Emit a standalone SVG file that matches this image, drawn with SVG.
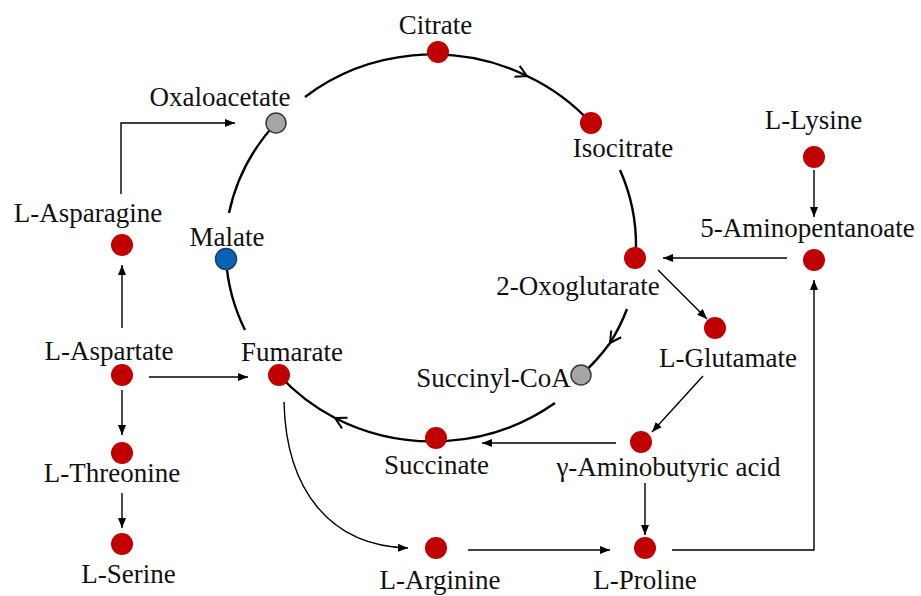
<svg xmlns="http://www.w3.org/2000/svg" width="921" height="596" viewBox="0 0 921 596">
<style>
text{font-family:'Liberation Serif','Times New Roman',serif;font-size:27px;fill:#111;text-anchor:middle}
.cyc{fill:none;stroke:#000;stroke-width:2.4}
.thin{fill:none;stroke:#000;stroke-width:1.4}
.red{fill:#c00000}
.gray{fill:#a6a6a6;stroke:#3a3a3a;stroke-width:1.5}
.blue{fill:#0b63b5;stroke:#1d3b66;stroke-width:1.5}
</style>
<defs>
<marker id="arr" markerWidth="12" markerHeight="10" refX="10" refY="4" orient="auto" markerUnits="userSpaceOnUse"><path d="M0,0 L10,4 L0,8 Z" fill="#000"/></marker>
<marker id="chev" markerWidth="14" markerHeight="14" refX="0" refY="0" orient="auto" markerUnits="userSpaceOnUse" overflow="visible"><path d="M-11,-6 L0,0 L-11,6" fill="none" stroke="#000" stroke-width="2"/></marker>
</defs>
<rect width="921" height="596" fill="#fff"/>
<g id="connectors">
<path class="cyc" d="M305,97 A205,194 0 0 1 527,76 A205,194 0 0 1 591,123" marker-mid="url(#chev)"/>
<path class="cyc" d="M620,170 A205,194 0 0 1 636,248"/>
<path class="cyc" d="M627,309 A205,194 0 0 1 610,343 A205,194 0 0 1 581,375" marker-mid="url(#chev)"/>
<path class="cyc" d="M555,403 A205,194 0 0 1 335,418 A205,194 0 0 1 279,375" marker-mid="url(#chev)"/>
<path class="cyc" d="M245,330 A205,194 0 0 1 226,259"/>
<path class="cyc" d="M229,213 A205,194 0 0 1 276,123"/>
<path class="thin" d="M121,194 V123 H235" marker-end="url(#arr)"/>
<path class="thin" d="M122,328 V265" marker-end="url(#arr)"/>
<path class="thin" d="M149,377 H248" marker-end="url(#arr)"/>
<path class="thin" d="M122,390 V435" marker-end="url(#arr)"/>
<path class="thin" d="M122,493 V528" marker-end="url(#arr)"/>
<path class="thin" d="M284,402 C286,490 330,546 408,548" marker-end="url(#arr)"/>
<path class="thin" d="M468,550 H610" marker-end="url(#arr)"/>
<path class="thin" d="M672,550 H814 V280" marker-end="url(#arr)"/>
<path class="thin" d="M645,483 V535" marker-end="url(#arr)"/>
<path class="thin" d="M616,443 H482" marker-end="url(#arr)"/>
<path class="thin" d="M703,376 L652,432" marker-end="url(#arr)"/>
<path class="thin" d="M658,270 L707,319" marker-end="url(#arr)"/>
<path class="thin" d="M787,258 H663" marker-end="url(#arr)"/>
<path class="thin" d="M814,170 V217" marker-end="url(#arr)"/>
</g>
<g id="citrate"><circle class="red" cx="438" cy="52" r="11"/><text x="435.5" y="34">Citrate</text></g>
<g id="isocitrate"><circle class="red" cx="591" cy="123" r="11"/><text x="623" y="157">Isocitrate</text></g>
<g id="oxoglutarate"><circle class="red" cx="635" cy="258" r="11"/><text x="578" y="295">2-Oxoglutarate</text></g>
<g id="succinylcoa"><text x="493.5" y="387">Succinyl-CoA</text><circle class="gray" cx="581" cy="375" r="10"/></g>
<g id="succinate"><circle class="red" cx="436" cy="438" r="11"/><text x="436.5" y="474">Succinate</text></g>
<g id="fumarate"><circle class="red" cx="279" cy="375" r="11"/><text x="292" y="361">Fumarate</text></g>
<g id="malate"><circle class="blue" cx="226" cy="259" r="10.5"/><text x="227" y="246">Malate</text></g>
<g id="oxaloacetate"><circle class="gray" cx="276" cy="123" r="10"/><text x="220" y="106">Oxaloacetate</text></g>
<g id="asparagine"><circle class="red" cx="122" cy="245" r="11"/><text x="88" y="222">L-Asparagine</text></g>
<g id="aspartate"><circle class="red" cx="122" cy="375" r="11"/><text x="109" y="360">L-Aspartate</text></g>
<g id="threonine"><circle class="red" cx="122" cy="453" r="11"/><text x="112" y="482">L-Threonine</text></g>
<g id="serine"><circle class="red" cx="122" cy="544" r="11"/><text x="128.5" y="583">L-Serine</text></g>
<g id="arginine"><circle class="red" cx="436" cy="548" r="11"/><text x="440" y="589">L-Arginine</text></g>
<g id="proline"><circle class="red" cx="645" cy="548" r="11"/><text x="645" y="589">L-Proline</text></g>
<g id="gaba"><circle class="red" cx="641" cy="442" r="11"/><text x="668.5" y="476">γ-Aminobutyric acid</text></g>
<g id="glutamate"><circle class="red" cx="715" cy="328" r="11"/><text x="728" y="367">L-Glutamate</text></g>
<g id="aminopentanoate"><circle class="red" cx="814" cy="260" r="11"/><text x="807.5" y="237">5-Aminopentanoate</text></g>
<g id="lysine"><circle class="red" cx="814" cy="157" r="11"/><text x="813.5" y="129">L-Lysine</text></g>
</svg>
